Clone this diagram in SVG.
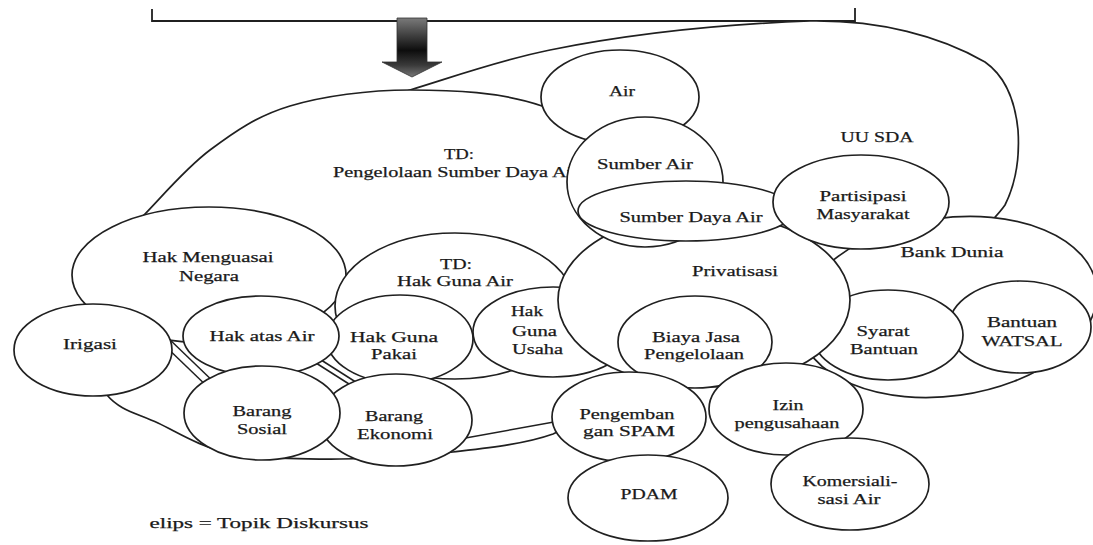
<svg xmlns="http://www.w3.org/2000/svg" width="1093" height="545" viewBox="0 0 1093 545">
<defs>
<style>
.n{fill:#fff;stroke:#202020;stroke-width:1.7}
.c{fill:none;stroke:#202020;stroke-width:1.5}
.b{fill:none;stroke:#202020;stroke-width:1.8}
.t{font-family:'Liberation Serif','DejaVu Serif',serif;font-size:15px;fill:#1a1a1a;stroke:#1a1a1a;stroke-width:0.25;text-anchor:middle}
.s{text-anchor:start}
</style>
<linearGradient id="ag" x1="0" y1="0" x2="0" y2="1">
<stop offset="0" stop-color="#7a7a7a"/>
<stop offset="0.55" stop-color="#0d0d0d"/>
<stop offset="0.8" stop-color="#3a3a3a"/>
<stop offset="1" stop-color="#777"/>
</linearGradient>
</defs>
<rect width="1093" height="545" fill="#fff"/>

<g id="bracket">
<path class="b" d="M152,9 V21 H855 V8"/>
<path d="M397,18 H427 V62 H442 L412,77 L382,62 H397 Z" fill="url(#ag)" stroke="#333" stroke-width="0.8"/>
</g>

<g id="n-uusda">
<path class="n" d="M360,105 L410,90 C450,78 500,60 550,50 C620,36 700,25 810,21 C880,20 940,36 985,62 C1005,76 1015,100 1018,130 C1020,160 1015,185 1005,205 C998,215 992,220 985,228 L960,270 L880,300 L760,280 L640,230 L500,150 Z"/>
</g>

<g id="n-td-psda">
<path class="n" d="M410,90 C452,90 502,91.8 542,106 C582,120.2 625.3,147.7 650,175 C674.7,202.3 690,238.3 690,270 C690,301.7 672.8,337.7 650,365 C627.2,392.3 585.8,419.5 553,434 C525,444 488.5,447.8 453,452 C417.5,456.2 377.2,458.8 340,459 C302.8,459.2 260.3,459 230,453 C199.7,447 178.5,432.7 158,423 C137.5,413.3 119.7,410.5 107,395 C94.3,379.5 83.2,352.2 82,330 C80.8,307.8 89.7,281.2 100,262 C110.3,242.8 125.7,233.7 144,215 C162.3,196.3 185.7,168.2 210,150 C234.3,131.8 256.7,116 290,106 C323.3,96 368,90 410,90 Z"/>
<text class="t" x="459" y="159" textLength="30" lengthAdjust="spacingAndGlyphs">TD:</text>
<text class="t" x="456" y="177" textLength="246" lengthAdjust="spacingAndGlyphs">Pengelolaan Sumber Daya Air</text>
</g>

<g id="n-bankdunia">
<ellipse class="n" cx="948" cy="307" rx="150" ry="89" transform="rotate(-8 948 307)"/>
<text class="t" x="952" y="257" textLength="103" lengthAdjust="spacingAndGlyphs">Bank Dunia</text>
</g>

<g id="n-watsal">
<ellipse class="n" cx="1020" cy="327" rx="71" ry="46"/>
<text class="t" x="1022" y="327" textLength="70" lengthAdjust="spacingAndGlyphs">Bantuan</text>
<text class="t" x="1022" y="346" textLength="81" lengthAdjust="spacingAndGlyphs">WATSAL</text>
</g>

<g id="n-syarat">
<ellipse class="n" cx="888" cy="335" rx="75" ry="45"/>
<text class="t" x="883" y="336" textLength="53" lengthAdjust="spacingAndGlyphs">Syarat</text>
<text class="t" x="884" y="354" textLength="68" lengthAdjust="spacingAndGlyphs">Bantuan</text>
</g>

<g id="n-hmn">
<ellipse class="n" cx="209" cy="275" rx="137" ry="68"/>
<text class="t" x="208" y="262" textLength="131" lengthAdjust="spacingAndGlyphs">Hak Menguasai</text>
<text class="t" x="209" y="281" textLength="60" lengthAdjust="spacingAndGlyphs">Negara</text>
</g>

<g id="n-td-hga">
<ellipse class="n" cx="455" cy="306" rx="120" ry="73"/>
<text class="t" x="456" y="269" textLength="32" lengthAdjust="spacingAndGlyphs">TD:</text>
<text class="t" x="455" y="286" textLength="116" lengthAdjust="spacingAndGlyphs">Hak Guna Air</text>
</g>

<g id="connectors">
<line class="c" x1="160" y1="341" x2="214" y2="393"/>
<line class="c" x1="166" y1="336" x2="220" y2="388"/>
<line class="c" x1="318" y1="358" x2="362" y2="386"/>
<line class="c" x1="316" y1="363" x2="360" y2="391"/>
<line class="c" x1="460" y1="439" x2="565" y2="420"/>
</g>

<g id="n-irigasi">
<ellipse class="n" cx="93" cy="350" rx="79" ry="46"/>
<text class="t" x="90" y="349" textLength="54" lengthAdjust="spacingAndGlyphs">Irigasi</text>
</g>

<g id="n-hgu">
<ellipse class="n" cx="553" cy="332" rx="80" ry="45"/>
<text class="t s" x="511" y="316" textLength="32" lengthAdjust="spacingAndGlyphs">Hak</text>
<text class="t s" x="512" y="336" textLength="45" lengthAdjust="spacingAndGlyphs">Guna</text>
<text class="t s" x="512" y="354" textLength="51" lengthAdjust="spacingAndGlyphs">Usaha</text>
</g>

<g id="n-privatisasi">
<ellipse class="n" cx="704" cy="300" rx="146" ry="87"/>
<text class="t" x="735" y="276" textLength="86" lengthAdjust="spacingAndGlyphs">Privatisasi</text>
</g>

<g id="n-biaya">
<ellipse class="n" cx="695" cy="342" rx="77" ry="46"/>
<text class="t" x="696" y="342" textLength="88" lengthAdjust="spacingAndGlyphs">Biaya Jasa</text>
<text class="t" x="694" y="359" textLength="100" lengthAdjust="spacingAndGlyphs">Pengelolaan</text>
</g>

<g id="n-hgp">
<ellipse class="n" cx="400" cy="339" rx="73" ry="44"/>
<text class="t" x="394" y="342" textLength="88" lengthAdjust="spacingAndGlyphs">Hak Guna</text>
<text class="t" x="394" y="359" textLength="46" lengthAdjust="spacingAndGlyphs">Pakai</text>
</g>

<g id="n-hatasair">
<ellipse class="n" cx="261" cy="336" rx="78" ry="40"/>
<text class="t" x="262" y="341" textLength="105" lengthAdjust="spacingAndGlyphs">Hak atas Air</text>
</g>

<g id="n-air">
<ellipse class="n" cx="620" cy="97" rx="79" ry="47"/>
<text class="t" x="622" y="96" textLength="26" lengthAdjust="spacingAndGlyphs">Air</text>
</g>

<g id="n-sumberair">
<ellipse class="n" cx="645" cy="182" rx="78" ry="65"/>
<text class="t" x="645" y="169" textLength="96" lengthAdjust="spacingAndGlyphs">Sumber Air</text>
</g>

<g id="n-sda">
<ellipse class="n" cx="686" cy="211" rx="108" ry="30"/>
<text class="t" x="691" y="222" textLength="143" lengthAdjust="spacingAndGlyphs">Sumber Daya Air</text>
</g>

<g id="n-partisipasi">
<ellipse class="n" cx="861" cy="202" rx="88" ry="47"/>
<text class="t" x="863" y="201" textLength="87" lengthAdjust="spacingAndGlyphs">Partisipasi</text>
<text class="t" x="863" y="219" textLength="93" lengthAdjust="spacingAndGlyphs">Masyarakat</text>
</g>

<g id="n-ekonomi">
<ellipse class="n" cx="396" cy="420" rx="76" ry="46"/>
<text class="t" x="394" y="421" textLength="58" lengthAdjust="spacingAndGlyphs">Barang</text>
<text class="t" x="395" y="439" textLength="76" lengthAdjust="spacingAndGlyphs">Ekonomi</text>
</g>

<g id="n-sosial">
<ellipse class="n" cx="262" cy="413" rx="78" ry="47"/>
<text class="t" x="262" y="416" textLength="59" lengthAdjust="spacingAndGlyphs">Barang</text>
<text class="t" x="262" y="434" textLength="50" lengthAdjust="spacingAndGlyphs">Sosial</text>
</g>

<g id="n-spam">
<ellipse class="n" cx="629" cy="417" rx="77" ry="45"/>
<text class="t" x="627" y="419" textLength="95" lengthAdjust="spacingAndGlyphs">Pengemban</text>
<text class="t" x="629" y="436" textLength="92" lengthAdjust="spacingAndGlyphs">gan SPAM</text>
</g>

<g id="n-izin">
<ellipse class="n" cx="786" cy="409" rx="77" ry="46"/>
<text class="t" x="788" y="410" textLength="31" lengthAdjust="spacingAndGlyphs">Izin</text>
<text class="t" x="787" y="428" textLength="105" lengthAdjust="spacingAndGlyphs">pengusahaan</text>
</g>

<g id="n-pdam">
<ellipse class="n" cx="648" cy="498" rx="80" ry="43"/>
<text class="t" x="649" y="499" textLength="57" lengthAdjust="spacingAndGlyphs">PDAM</text>
</g>

<g id="n-komersial">
<ellipse class="n" cx="850" cy="484" rx="79" ry="46"/>
<text class="t" x="850" y="486" textLength="95" lengthAdjust="spacingAndGlyphs">Komersiali-</text>
<text class="t" x="849" y="504" textLength="63" lengthAdjust="spacingAndGlyphs">sasi Air</text>
</g>

<text class="t" x="877" y="142" textLength="73" lengthAdjust="spacingAndGlyphs">UU SDA</text>
<text class="t" x="259" y="528" textLength="219" lengthAdjust="spacingAndGlyphs">elips = Topik Diskursus</text>
</svg>
